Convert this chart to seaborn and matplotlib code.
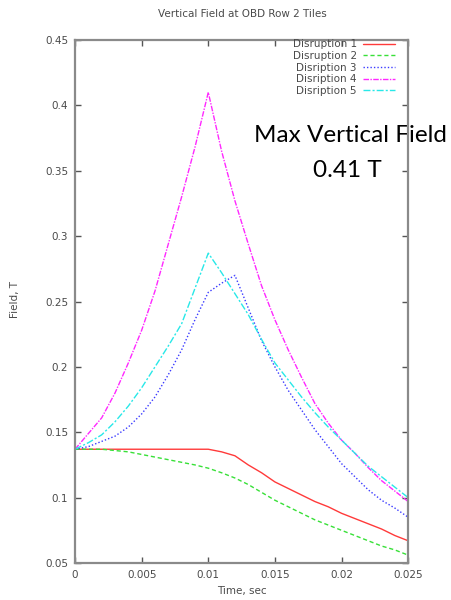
import matplotlib
matplotlib.use("Agg")
import matplotlib.pyplot as plt
import seaborn as sns
import pandas as pd

# Time samples (s)
time = [0.000, 0.001, 0.002, 0.003, 0.004, 0.005, 0.006, 0.007, 0.008, 0.009,
        0.010, 0.011, 0.012, 0.013, 0.014, 0.015, 0.016, 0.017, 0.018, 0.019,
        0.020, 0.021, 0.022, 0.023, 0.024, 0.025]

# Vertical field (T) for each disruption case
disruption_1 = [0.137, 0.137, 0.137, 0.137, 0.137, 0.137, 0.137, 0.137, 0.137, 0.137,
                0.137, 0.135, 0.132, 0.125, 0.119, 0.112, 0.107, 0.102, 0.097, 0.093,
                0.088, 0.084, 0.080, 0.076, 0.071, 0.067]
disruption_2 = [0.137, 0.137, 0.137, 0.136, 0.135, 0.133, 0.131, 0.129, 0.127, 0.125,
                0.1225, 0.119, 0.115, 0.110, 0.104, 0.098, 0.093, 0.088, 0.083, 0.079,
                0.075, 0.071, 0.067, 0.063, 0.060, 0.056]
disruption_3 = [0.137, 0.139, 0.143, 0.147, 0.154, 0.164, 0.177, 0.194, 0.213, 0.236,
                0.257, 0.264, 0.270, 0.245, 0.220, 0.200, 0.182, 0.167, 0.152, 0.139,
                0.126, 0.116, 0.106, 0.098, 0.092, 0.085]
disruption_4 = [0.137, 0.149, 0.161, 0.180, 0.203, 0.228, 0.258, 0.294, 0.330, 0.368,
                0.410, 0.365, 0.327, 0.294, 0.262, 0.236, 0.213, 0.192, 0.172, 0.157,
                0.144, 0.134, 0.123, 0.113, 0.105, 0.097]
disruption_5 = [0.137, 0.142, 0.148, 0.158, 0.170, 0.184, 0.200, 0.216, 0.233, 0.260,
                0.287, 0.272, 0.256, 0.240, 0.221, 0.203, 0.190, 0.177, 0.165, 0.154,
                0.144, 0.134, 0.124, 0.116, 0.108, 0.100]

labels = ["Disruption 1", "Disruption 2", "Disription 3", "Disription 4", "Disription 5"]
series = [disruption_1, disruption_2, disruption_3, disruption_4, disruption_5]
colors = ["#ff3a3a", "#38e038", "#3a3aff", "#ff28ff", "#28e8e8"]
styles = ["-", (0, (3, 2)), (0, (1, 1.5)), (0, (4, 1, 1, 1)), (0, (5, 1.5, 1.5, 1.5))]

frames = [pd.DataFrame({"Time": time, "Field": vals, "Case": lab})
          for lab, vals in zip(labels, series)]
df = pd.concat(frames, ignore_index=True)

sns.set_style("ticks")
plt.rcParams["font.family"] = ["DejaVu Sans"]

fig = plt.figure(figsize=(4.52, 6.0), dpi=100)
ax = fig.add_axes([0.166, 0.0617, 0.737, 0.8716])

for lab, col, ls in zip(labels, colors, styles):
    sub = df[df["Case"] == lab]
    sns.lineplot(data=sub, x="Time", y="Field", ax=ax, color=col,
                 linewidth=1.0, label=lab, linestyle=ls)

ax.set_xlim(0, 0.025)
ax.set_ylim(0.05, 0.45)
ax.set_xticks([0, 0.005, 0.01, 0.015, 0.02, 0.025])
ax.set_xticklabels(["0", "0.005", "0.01", "0.015", "0.02", "0.025"])
ax.set_yticks([0.05, 0.1, 0.15, 0.2, 0.25, 0.3, 0.35, 0.4, 0.45])
ax.set_yticklabels(["0.05", "0.1", "0.15", "0.2", "0.25", "0.3", "0.35", "0.4", "0.45"])

for sp in ax.spines.values():
    sp.set_visible(True)
    sp.set_color("#8a8a8a")
    sp.set_linewidth(1.6)
ax.tick_params(direction="in", top=True, right=True, length=4.5, width=1,
               color="#555555", labelsize=7.5, labelcolor="#4a4a4a", pad=5)

ax.set_xlabel("")
ax.set_ylabel("")
fig.text(242 / 452, 1 - 591 / 600, "Time, sec", ha="center", va="center",
         fontsize=7.5, color="#4a4a4a")
fig.text(15 / 452, 1 - 300 / 600, "Field, T", ha="center", va="center",
         rotation=90, fontsize=7.5, color="#4a4a4a")
fig.text(242 / 452, 1 - 14 / 600, "Vertical Field at OBD Row 2 Tiles", ha="center",
         va="center", fontsize=7.5, color="#4a4a4a")

leg = ax.legend(loc="upper right", bbox_to_anchor=(0.962, 1.001), frameon=False,
                markerfirst=False, fontsize=7.5, handlelength=3.1, labelspacing=0.15,
                borderaxespad=0, borderpad=0, handletextpad=0.6)
for t in leg.get_texts():
    t.set_color("#4a4a4a")

# Annotation sits beneath the axes frame
for s, xc, yb in [("Max Vertical Field", 350, 142), ("0.41 T", 347, 177)]:
    ax.text(xc / 452, 1 - yb / 600, s, transform=fig.transFigure, ha="center",
            va="baseline", fontsize=17.5, color="black", family=["Lato", "DejaVu Sans"],
            zorder=1, clip_on=False)

fig.savefig("out.png", dpi=100)
